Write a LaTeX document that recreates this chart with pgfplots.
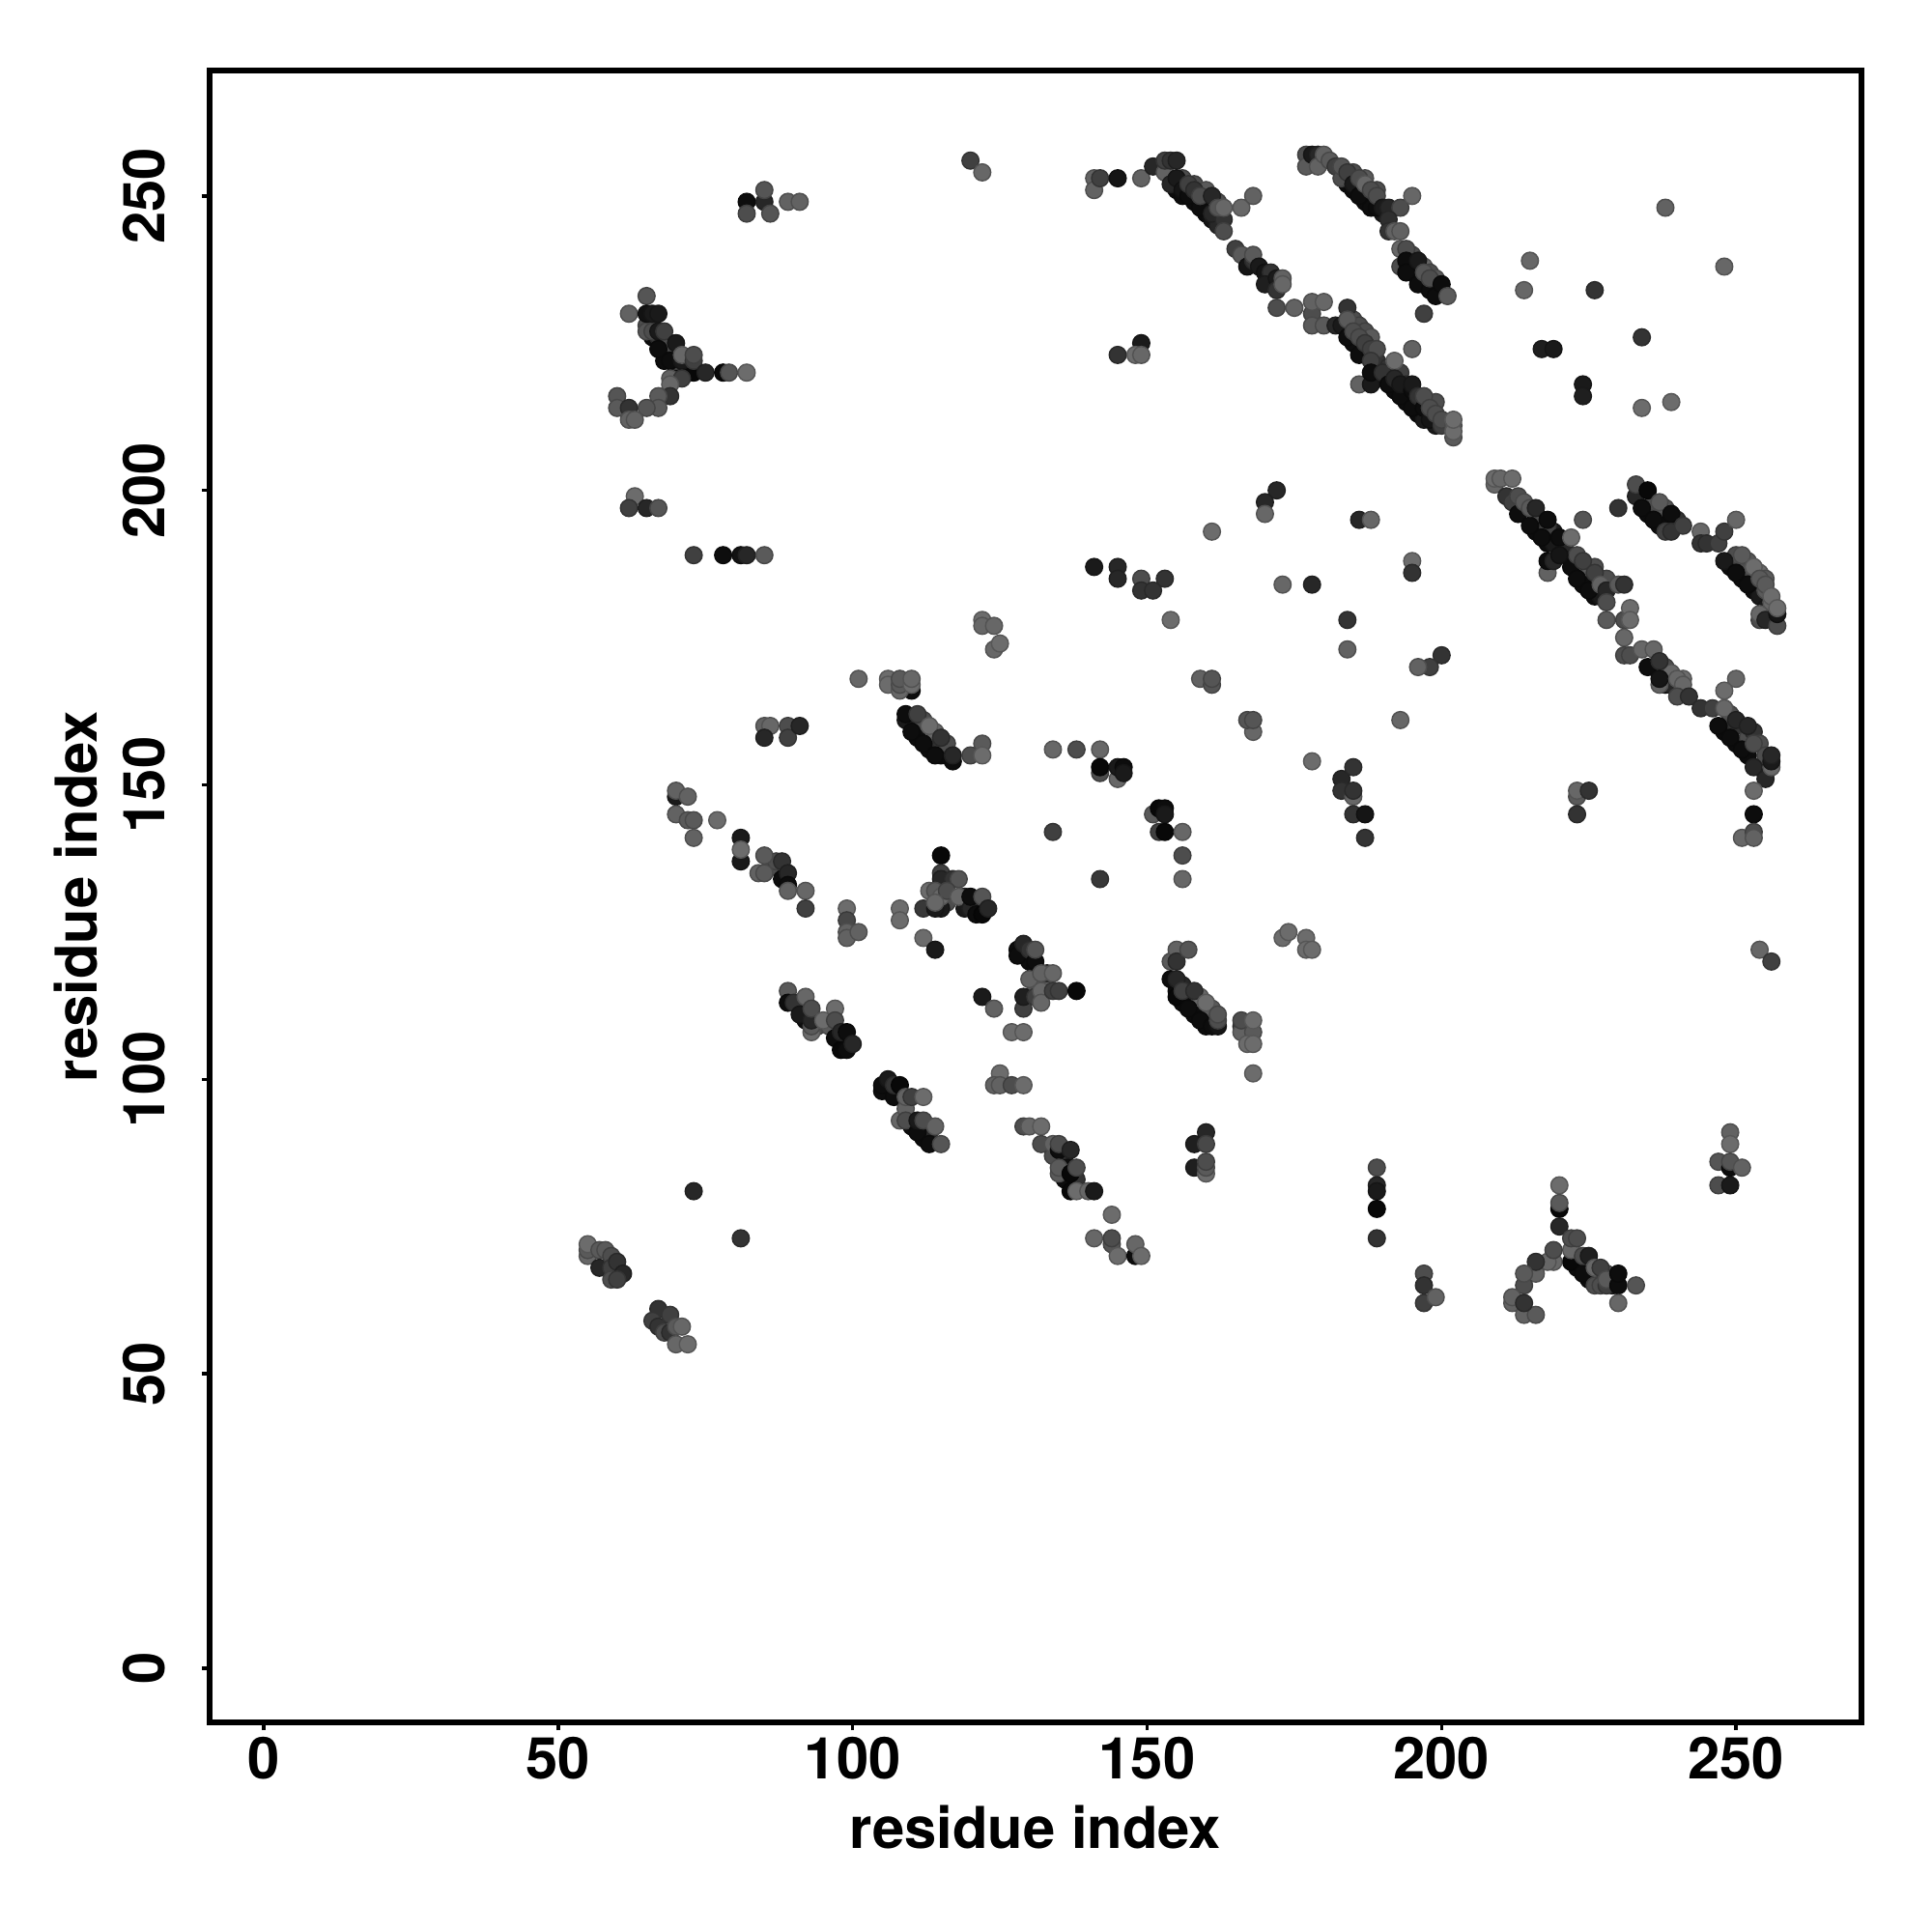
\documentclass[border=0pt]{standalone}
\usepackage{fontspec}
\setmainfont{TeX Gyre Heros}
\usepackage{pgfplots}
\pgfplotsset{compat=1.18}
\begin{document}
\begin{tikzpicture}
\useasboundingbox (-2.17cm,-2.17cm) rectangle (17.83cm,17.83cm);
\begin{axis}[
  at={(0,0)},anchor=south west,
  scale only axis,width=17.1cm,height=17.1cm,
  xmin=-9.2,xmax=271.3,ymin=-9.2,ymax=271.3,
  xtick={0,50,100,150,200,250},ytick={0,50,100,150,200,250},
  axis line style={line width=1.5pt},
  tick style={line width=1pt,black},
  tick align=outside,tick pos=left,
  major tick length=0.08cm,
  /pgf/number format/assume math mode=true,
  ticklabel style={font=\fontsize{17}{19}\selectfont\bfseries},
  xticklabel style={yshift=0.05cm},
  yticklabel style={rotate=90,anchor=south,yshift=0.26cm},
  xlabel={residue index},ylabel={residue index},
  label style={font=\fontsize{17}{19}\selectfont\bfseries},
  xlabel style={at={(axis description cs:0.5,-0.0637)},anchor=center},
  ylabel style={at={(axis description cs:-0.0807,0.5)},anchor=center,rotate=0},
  colormap={gr}{gray(0cm)=(0);gray(1cm)=(1)},
  point meta min=0,point meta max=1,
]
\addplot[scatter,only marks,mark=*,mark size=2.5pt,scatter src=explicit] table[row sep=\\,meta=g]{
x y g\\
155 251 .05\\ 156 250 .05\\ 158 249 .05\\ 160 247 .05\\ 161 246 .08\\ 162 245 .15\\ 156 253 .3\\ 158 252 .3\\ 160 251 .35\\ 162 249 .3\\
184 252 .05\\ 185 251 .05\\ 187 249 .05\\ 188 248 .05\\ 190 247 .1\\ 185 254 .3\\ 187 253 .35\\ 189 251 .3\\
195 238 .05\\ 196 237 .05\\ 197 235 .05\\ 198 235 .1\\ 199 234 .05\\ 195 240 .3\\ 197 238 .4\\ 198 237 .3\\ 199 236 .35\\ 200 234 .3\\
185 225 .05\\ 187 224 .05\\ 189 221 .05\\ 190 219 .05\\ 192 217 .05\\ 194 215 .05\\ 196 213 .05\\ 197 212 .1\\ 199 211 .1\\ 185 229 .3\\ 186 228 .3\\ 187 227 .3\\ 188 226 .35\\ 189 222 .2\\ 191 221 .2\\ 193 220 .25\\ 194 218 .2\\ 199 215 .3\\
214 197 .05\\ 216 193 .05\\ 217 195 .05\\ 218 191 .05\\ 219 193 .1\\ 220 190 .05\\ 221 189 .1\\ 222 187 .05\\ 224 184 .05\\ 226 182 .05\\ 227 182 .1\\ 216 196 .3\\ 218 194 .25\\ 219 191 .1\\ 221 191 .15\\ 223 189 .3\\ 225 187 .35\\ 226 187 .3\\ 228 185 .3\\
235 196 .05\\ 237 194 .05\\ 238 195 .05\\ 249 187 .05\\ 251 185 .05\\ 253 183 .05\\ 254 182 .1\\ 255 180 .1\\ 256 179 .1\\ 236 198 .3\\ 238 197 .33\\ 240 195 .2\\ 250 189 .3\\ 252 188 .33\\ 252 187 .3\\ 254 186 .4\\ 255 185 .35\\ 255 183 .35\\ 256 181 .4\\
236 170 .05\\ 238 167 .05\\ 239 167 .15\\ 248 159 .05\\ 250 157 .05\\ 252 155 .05\\ 254 153 .05\\ 255 152 .05\\ 238 170 .3\\ 239 169 .4\\ 241 168 .42\\ 249 162 .3\\ 250 160 .2\\ 251 160 .2\\ 252 158 .3\\ 253 159 .2\\ 254 157 .3\\ 255 155 .3\\
110 160 .05\\ 111 158 .05\\ 113 156 .05\\ 115 155 .05\\ 116 155 .05\\ 110 161 .15\\ 112 161 .3\\ 114 159 .4\\ 115 157 .2\\ 116 157 .3\\
155 115 .05\\ 156 113 .05\\ 158 111 .05\\ 160 110 .05\\ 160 109 .05\\ 156 116 .15\\ 159 114 .4\\ 161 112 .35\\
66 226 .05\\ 68 224 .05\\ 68 222 .05\\ 70 223 .05\\ 70 221 .05\\ 72 220 .05\\ 73 220 .03\\ 66 228 .2\\ 67 226 .2\\ 69 225 .3\\ 70 222 .3\\
223 68 .05\\ 225 66 .05\\ 226 66 .15\\ 229 65 .1\\ 225 69 .35\\ 228 67 .3\\ 229 66 .1\\
86 136 .3\\ 87 137 .3\\ 88 134 .05\\
106 98 .05\\ 107 98 .1\\ 110 92 .05\\ 112 90 .05\\ 113 91 .15\\ 109 96 .3\\
91 112 .05\\ 92 110 .05\\ 94 109 .3\\ 96 109 .35\\ 98 107 .05\\ 99 106 .05\\
134 87 .3\\ 136 86 .05\\ 136 83 .05\\ 136 88 .2\\ 138 83 .2\\
130 120 .05\\ 131 119 .05\\ 132 116 .38\\ 133 116 .38\\ 131 116 .35\\
119 131 .15\\ 119 129 .1\\ 120 130 .1\\ 121 130 .2\\ 116 130 .3\\ 115 129 .1\\
};
\addplot[scatter,only marks,mark=*,mark size=2.5pt,scatter src=explicit] table[row sep=\\,meta=g]{
x y g\\
82 249 .05\\ 82 247 .3\\ 85 249 .15\\ 85 251 .33\\ 86 247 .33\\ 89 249 .38\\ 91 249 .38\\
120 256 .25\\ 122 254 .4\\ 141 253 .38\\ 141 251 .38\\ 142 253 .25\\ 145 253 .08\\ 149 253 .38\\
151 255 .15\\ 153 254 .38\\ 153 256 .25\\ 154 256 .2\\ 155 256 .15\\ 154 252 .15\\ 155 253 .1\\ 156 251 .08\\ 157 250 .05\\ 157 252 .25\\ 158 251 .2\\ 159 248 .05\\ 159 250 .3\\ 161 247 .15\\ 161 250 .15\\ 163 246 .2\\ 163 244 .3\\ 162 248 .33\\ 163 248 .4\\ 166 248 .4\\ 168 250 .38\\
165 241 .25\\ 166 240 .35\\ 167 238 .08\\ 168 239 .2\\ 168 240 .35\\ 169 238 .1\\ 170 237 .08\\ 171 237 .2\\ 170 235 .12\\ 172 236 .1\\ 172 234 .2\\ 173 236 .38\\ 173 235 .4\\ 172 231 .3\\ 175 231 .38\\ 178 230 .3\\ 178 232 .38\\ 180 232 .4\\ 178 228 .35\\ 180 228 .35\\
177 257 .3\\ 177 255 .35\\ 178 257 .1\\ 179 257 .15\\ 179 255 .38\\ 180 257 .38\\ 181 256 .35\\ 182 255 .25\\ 183 253 .3\\ 183 255 .33\\ 184 254 .25\\ 185 252 .1\\ 186 250 .05\\ 186 253 .3\\ 187 252 .4\\ 188 251 .3\\ 189 248 .05\\ 189 250 .3\\ 190 248 .1\\ 191 248 .15\\ 193 248 .3\\ 195 250 .4\\ 191 246 .18\\ 191 244 .2\\ 192 244 .38\\ 193 244 .38\\
193 238 .3\\ 193 241 .4\\ 194 241 .3\\ 194 239 .05\\ 194 237 .05\\ 196 239 .1\\ 196 235 .05\\ 197 237 .33\\ 198 234 .05\\ 198 236 .3\\ 199 233 .05\\ 200 235 .05\\ 201 233 .35\\ 197 230 .25\\ 195 224 .38\\
215 239 .4\\ 214 234 .4\\ 226 234 .2\\ 238 248 .38\\ 248 238 .4\\ 234 226 .2\\ 217 224 .12\\ 219 224 .1\\ 224 218 .1\\ 224 216 .12\\ 234 214 .42\\ 239 215 .42\\
182 228 .15\\ 183 228 .1\\ 184 226 .05\\ 184 231 .2\\ 184 229 .35\\ 185 227 .3\\ 186 223 .05\\ 186 226 .3\\ 187 225 .25\\ 188 223 .05\\ 188 224 .25\\ 189 224 .3\\ 188 222 .25\\ 186 218 .38\\ 188 218 .1\\ 188 220 .05\\ 190 220 .2\\ 191 218 .05\\ 192 222 .42\\ 192 219 .15\\ 193 216 .05\\ 193 218 .1\\ 195 214 .05\\ 195 217 .05\\ 195 218 .1\\ 196 216 .2\\ 197 214 .05\\ 197 216 .3\\ 198 212 .08\\ 198 214 .3\\ 199 213 .3\\ 200 211 .25\\ 200 212 .3\\ 202 209 .35\\ 202 211 .35\\ 202 210 .42\\ 202 212 .42\\
209 201 .4\\ 209 202 .42\\ 210 202 .4\\ 212 202 .42\\ 211 199 .2\\ 212 198 .25\\ 213 196 .05\\ 213 199 .3\\ 214 198 .35\\ 215 194 .05\\ 215 197 .35\\ 216 197 .15\\ 217 192 .05\\ 218 195 .05\\ 224 195 .33\\ 220 192 .05\\ 222 192 .42\\ 218 186 .38\\ 218 188 .05\\ 219 188 .15\\ 220 189 .08\\ 223 185 .05\\ 224 188 .25\\ 225 183 .05\\ 226 186 .25\\ 227 184 .38\\ 228 183 .15\\ 230 184 .35\\ 231 184 .2\\ 230 197 .2\\
228 178 .35\\ 228 181 .3\\ 231 178 .3\\ 232 180 .42\\ 232 178 .42\\ 231 175 .4\\ 231 172 .3\\ 232 172 .3\\ 234 173 .4\\ 235 170 .05\\ 236 173 .4\\ 237 171 .2\\ 237 167 .38\\ 237 168 .08\\ 240 168 .4\\ 241 167 .4\\ 240 165 .3\\ 242 165 .2\\ 244 163 .2\\ 246 163 .25\\ 248 163 .4\\ 250 168 .4\\ 248 166 .42\\ 247 160 .05\\ 249 158 .05\\ 250 161 .15\\ 251 156 .05\\ 252 160 .15\\ 253 157 .3\\ 253 153 .15\\ 255 151 .15\\ 256 153 .4\\ 256 154 .1\\ 256 155 .15\\ 253 149 .42\\ 253 145 .05\\ 251 141 .4\\ 253 142 .3\\ 253 141 .38\\
233 199 .15\\ 233 201 .3\\ 234 197 .05\\ 235 200 .03\\ 236 195 .05\\ 237 198 .35\\ 239 196 .05\\ 238 193 .25\\ 239 193 .2\\ 241 194 .25\\ 244 193 .4\\ 244 191 .2\\ 245 191 .2\\ 247 191 .25\\ 248 193 .25\\ 250 195 .4\\ 248 188 .1\\ 250 186 .05\\ 251 189 .35\\ 252 184 .05\\ 253 187 .42\\ 254 178 .3\\ 254 179 .4\\ 254 185 .35\\ 255 178 .15\\ 255 184 .35\\ 256 182 .42\\ 257 177 .3\\ 257 179 .08\\ 257 180 .42\\
223 148 .35\\ 223 149 .4\\ 225 149 .2\\ 223 145 .2\\
65 233 .33\\ 62 230 .38\\ 65 228 .3\\ 65 227 .33\\ 66 227 .3\\ 65 230 .07\\ 66 230 .1\\ 67 230 .1\\ 67 227 .1\\ 67 224 .05\\ 68 227 .25\\ 69 222 .05\\ 70 225 .1\\ 71 222 .1\\ 71 223 .4\\ 73 222 .25\\ 73 223 .3\\ 75 220 .15\\ 78 220 .03\\ 79 220 .33\\ 82 220 .42\\ 69 219 .38\\ 71 219 .25\\ 69 218 .4\\ 69 216 .2\\ 67 216 .35\\ 67 214 .35\\ 65 214 .33\\ 60 216 .33\\ 60 214 .35\\ 62 214 .2\\ 62 212 .38\\ 63 212 .38\\
63 199 .42\\ 62 197 .25\\ 65 197 .15\\ 67 197 .33\\ 73 189 .25\\ 78 189 .05\\ 81 189 .07\\ 82 189 .15\\ 85 189 .35\\
141 187 .1\\ 145 187 .15\\ 145 185 .15\\ 149 185 .3\\ 149 183 .2\\ 151 183 .2\\ 153 185 .2\\ 154 178 .42\\ 161 193 .42\\ 172 200 .15\\ 170 198 .15\\ 170 196 .4\\ 173 184 .4\\ 178 184 .15\\ 186 195 .15\\ 188 195 .4\\ 195 188 .42\\ 195 186 .2\\ 184 178 .2\\ 184 173 .38\\ 200 172 .2\\ 198 170 .25\\ 196 170 .38\\ 193 161 .4\\ 178 154 .42\\
145 223 .2\\ 149 225 .1\\ 148 223 .42\\ 149 223 .4\\ 122 178 .42\\ 122 177 .4\\ 124 177 .4\\ 124 173 .4\\ 125 174 .42\\
101 168 .4\\ 106 168 .42\\ 106 167 .42\\ 110 166 .05\\ 108 166 .4\\ 108 167 .35\\ 108 168 .35\\ 110 167 .42\\ 110 168 .4\\ 109 161 .1\\ 109 162 .05\\ 111 162 .25\\ 110 159 .05\\ 112 157 .05\\ 113 160 .42\\ 114 155 .05\\ 115 158 .2\\ 117 154 .05\\ 117 155 .15\\ 120 155 .3\\ 122 157 .35\\ 122 155 .42\\
134 156 .4\\ 138 156 .3\\ 142 152 .3\\ 142 156 .4\\ 142 153 .03\\ 145 151 .4\\ 145 153 .1\\ 146 153 .05\\ 146 152 .1\\
151 145 .35\\ 152 146 .03\\ 153 146 .05\\ 153 145 .1\\ 152 142 .25\\ 153 142 .03\\ 156 142 .4\\ 134 142 .25\\ 156 138 .3\\ 156 134 .4\\ 142 134 .22\\
159 168 .38\\ 161 167 .33\\ 161 168 .33\\ 168 159 .4\\ 167 161 .33\\ 168 161 .33\\
115 138 .03\\ 115 135 .25\\ 115 134 .15\\ 117 134 .2\\ 118 134 .33\\ 113 132 .42\\ 114 132 .35\\ 115 131 .4\\ 116 132 .3\\ 118 131 .4\\ 112 129 .22\\ 114 129 .1\\ 114 130 .4\\ 120 129 .15\\ 120 131 .05\\ 122 131 .33\\ 121 128 .05\\ 122 128 .03\\ 123 129 .15\\
99 129 .42\\ 99 127 .28\\ 99 125 .38\\ 99 124 .38\\ 101 125 .38\\ 108 129 .42\\ 108 127 .42\\ 112 124 .42\\ 114 122 .1\\
128 122 .05\\ 128 121 .05\\ 129 123 .15\\ 130 122 .2\\ 131 120 .05\\ 131 122 .33\\ 130 117 .38\\ 133 118 .2\\ 132 118 .38\\ 134 118 .4\\ 129 112 .25\\ 129 114 .12\\ 131 114 .25\\ 132 115 .4\\ 132 113 .4\\ 134 115 .25\\ 135 115 .25\\ 138 115 .03\\
122 114 .1\\ 124 112 .38\\ 127 108 .42\\ 129 108 .42\\ 125 101 .42\\ 124 99 .38\\ 125 99 .38\\ 127 99 .3\\ 129 99 .42\\
173 124 .42\\ 174 125 .42\\ 177 124 .42\\ 177 122 .42\\ 178 122 .42\\
154 120 .35\\ 155 122 .38\\ 155 120 .2\\ 157 122 .33\\ 154 117 .05\\ 155 117 .15\\ 155 114 .03\\ 156 115 .25\\ 157 112 .05\\ 158 115 .2\\ 159 110 .05\\ 160 113 .42\\ 161 109 .05\\ 162 109 .08\\ 162 110 .3\\ 162 111 .33\\
166 109 .2\\ 166 108 .38\\ 166 110 .3\\ 168 108 .35\\ 168 110 .42\\ 167 106 .42\\ 168 106 .42\\ 168 101 .42\\
89 115 .35\\ 89 113 .05\\ 90 113 .2\\ 92 114 .4\\ 91 111 .1\\ 93 108 .42\\ 93 109 .35\\ 93 110 .15\\ 93 112 .3\\ 95 110 .42\\ 97 112 .42\\ 97 107 .05\\ 97 110 .3\\ 98 105 .03\\ 98 108 .15\\ 99 105 .05\\ 99 108 .05\\ 100 106 .15\\
105 98 .05\\ 105 99 .05\\ 106 100 .1\\ 107 97 .05\\ 107 99 .2\\ 108 99 .03\\ 108 93 .4\\ 109 95 .38\\ 109 93 .3\\ 109 97 .38\\ 110 97 .25\\ 111 91 .05\\ 111 93 .1\\ 112 93 .3\\ 112 97 .42\\ 113 89 .05\\ 114 92 .38\\ 115 89 .33\\
129 92 .3\\ 130 92 .4\\ 132 92 .42\\ 132 89 .3\\ 134 89 .38\\ 135 88 .05\\ 135 89 .3\\ 135 84 .35\\ 135 85 .35\\ 137 88 .15\\ 137 84 .03\\ 138 85 .3\\ 137 81 .03\\ 138 81 .42\\ 140 81 .4\\ 141 81 .1\\ 144 77 .42\\ 141 73 .4\\ 144 72 .33\\ 144 73 .3\\ 145 70 .42\\ 148 70 .05\\ 148 72 .4\\ 149 70 .42\\
160 91 .15\\ 158 89 .12\\ 160 89 .28\\ 158 85 .12\\ 160 84 .42\\ 160 85 .35\\ 160 86 .3\\
55 70 .4\\ 55 71 .35\\ 55 72 .42\\ 57 71 .35\\ 58 71 .35\\ 57 68 .15\\ 59 70 .3\\ 59 68 .25\\ 60 69 .2\\ 59 66 .3\\ 61 67 .15\\ 60 66 .25\\
67 61 .2\\ 66 59 .25\\ 67 58 .2\\ 69 60 .25\\ 68 57 .3\\ 69 57 .2\\ 70 58 .35\\ 71 58 .4\\ 70 55 .4\\ 72 55 .42\\ 73 81 .15\\ 81 73 .2\\
70 148 .1\\ 70 149 .38\\ 70 145 .38\\ 72 148 .38\\ 72 144 .35\\ 73 144 .35\\ 73 141 .38\\ 77 144 .42\\
81 141 .1\\ 81 137 .1\\ 81 139 .42\\ 84 135 .38\\ 85 138 .35\\ 85 135 .35\\ 88 137 .2\\ 89 135 .15\\ 89 133 .05\\ 89 132 .38\\ 92 132 .4\\ 92 129 .25\\
85 160 .38\\ 86 160 .4\\ 85 158 .15\\ 89 160 .3\\ 89 158 .25\\ 91 160 .15\\
183 151 .15\\ 183 149 .2\\ 185 153 .2\\ 185 148 .4\\ 185 149 .2\\ 185 145 .2\\ 187 145 .08\\ 187 141 .2\\
189 85 .3\\ 189 82 .15\\ 189 81 .1\\ 189 78 .03\\ 189 73 .2\\ 197 67 .3\\ 197 65 .2\\ 197 62 .25\\ 199 63 .38\\
220 82 .42\\ 220 78 .03\\ 220 79 .35\\ 220 75 .15\\ 222 69 .03\\ 222 71 .4\\ 222 73 .3\\ 223 73 .3\\ 224 67 .05\\ 224 70 .3\\ 225 70 .12\\ 226 65 .3\\ 227 65 .3\\ 226 68 .4\\ 227 68 .25\\ 228 65 .25\\ 228 66 .35\\ 230 65 .05\\ 230 67 .05\\ 233 65 .33\\ 230 62 .4\\
219 69 .4\\ 218 69 .4\\ 219 71 .3\\ 216 67 .38\\ 216 69 .2\\ 214 65 .3\\ 214 67 .35\\ 212 62 .38\\ 212 63 .38\\ 214 60 .38\\ 216 60 .35\\ 214 62 .2\\
249 91 .38\\ 249 89 .42\\ 247 86 .33\\ 249 85 .05\\ 249 86 .33\\ 251 85 .38\\ 247 82 .3\\ 249 82 .1\\ 254 122 .4\\ 256 120 .25\\
};
\end{axis}
\end{tikzpicture}
\end{document}
